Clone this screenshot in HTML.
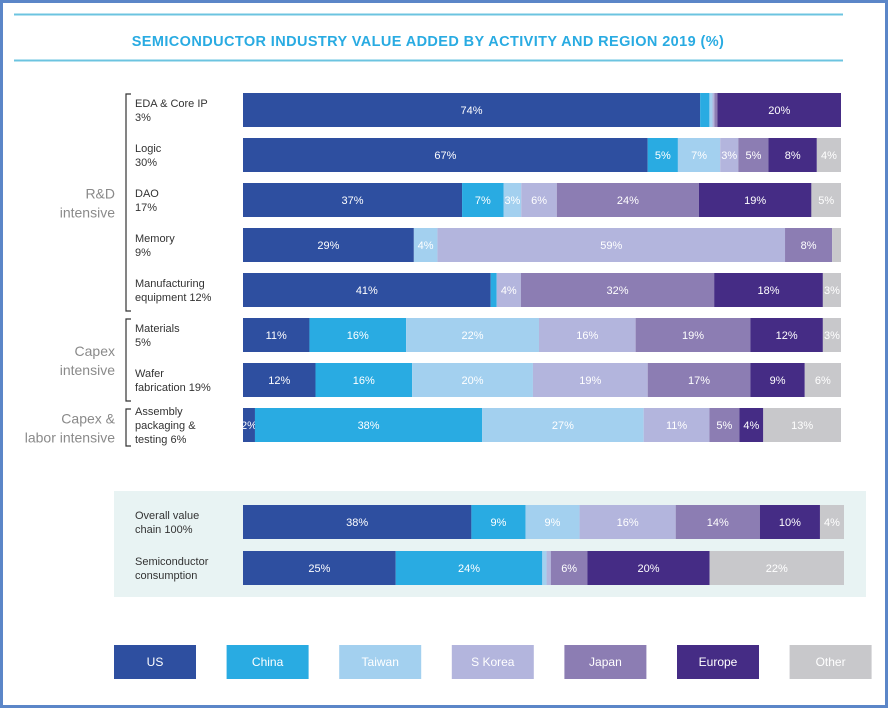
<!DOCTYPE html>
<html><head><meta charset="utf-8">
<style>
body{margin:0;background:#fff;}
svg{display:block;font-family:"Liberation Sans",sans-serif;}
</style></head>
<body>
<svg id="chart" width="889" height="709" viewBox="0 0 889 709">
<rect x="1.5" y="1.5" width="885" height="705" fill="none" stroke="#5b86c8" stroke-width="3"/>
<line x1="14" y1="14.5" x2="843" y2="14.5" stroke="#6cc4e0" stroke-width="2"/>
<line x1="14" y1="60.5" x2="843" y2="60.5" stroke="#6cc4e0" stroke-width="2"/>
<text x="428" y="46" text-anchor="middle" font-size="14.5" font-weight="bold" fill="#29abe2" letter-spacing="0.4">SEMICONDUCTOR INDUSTRY VALUE ADDED BY ACTIVITY AND REGION 2019 (%)</text>
<rect x="114" y="491" width="752" height="106" fill="#e8f3f3"/>
<g id="groups"></g>
<g id="bars"></g>
<g id="legend"></g>
</svg>
<script>
const series = ["US","China","Taiwan","S Korea","Japan","Europe","Other"];
const colors = ["#2e4fa0","#29abe2","#a3d0ef","#b3b5dd","#8c7db3","#452c85","#c8c8cb"];
const categories = [["EDA & Core IP","3%"],["Logic","30%"],["DAO","17%"],["Memory","9%"],["Manufacturing","equipment 12%"],["Materials","5%"],["Wafer","fabrication 19%"],["Assembly","packaging &","testing 6%"],["Overall value","chain 100%"],["Semiconductor","consumption"]];
const usVals     = [74,67,37,29,41,11,12,2,38,25];
const chinaVals  = [1.5,5,7,0,1,16,16,38,9,24];
const taiwanVals = [0.5,7,3,4,0,22,20,27,9,0.7];
const koreaVals  = [0.3,3,6,59,4,16,19,11,16,0.7];
const japanVals  = [0.5,5,24,8,32,19,17,5,14,6];
const europeVals = [20,8,19,0,18,12,9,4,10,20];
const otherVals  = [0,4,5,1.5,3,3,6,13,4,22];
const allVals = [usVals,chinaVals,taiwanVals,koreaVals,japanVals,europeVals,otherVals];
const groups = [["R&D","intensive"],["Capex","intensive"],["Capex &","labor intensive"]];
const groupRows = [[0,4],[5,6],[7,7]];

const NS="http://www.w3.org/2000/svg";
function mk(tag,attrs,parent){const e=document.createElementNS(NS,tag);for(const k in attrs)e.setAttribute(k,attrs[k]);parent.appendChild(e);return e;}
function rowY(i){return i<8?93+i*45:505+(i-8)*46;}
function rowX0(i){return 243;}
function rowW(i){return i<8?598:601;}
const barH=34;
const bars=document.getElementById('bars');
categories.forEach((cat,i)=>{
  const y=rowY(i);
  const lab=mk('text',{x:135,y:0,'font-size':11,fill:'#333'},bars);
  
  
  const startY=y+barH/2-(cat.length-1)*7+4;
  cat.forEach((ln,k)=>{const t=mk('tspan',{x:135,y:startY+k*14},lab);t.textContent=ln;});
  let total=0;allVals.forEach(a=>total+=a[i]);
  let x=rowX0(i);
  allVals.forEach((a,s)=>{
    const v=a[i];if(v<=0)return;
    const w=v/total*rowW(i);
    const r=mk('rect',{x:x,y:y,width:w,height:barH,fill:colors[s]},bars);
    
    
    if(v>=2){
      const t=mk('text',{x:x+w/2,y:y+barH/2+4,'text-anchor':'middle','font-size':11,fill:'#fff'},bars);
      t.textContent=Math.round(v)+'%';
      
      
    }
    x+=w;
  });
});
const g=document.getElementById('groups');
groups.forEach((gr,k)=>{
  const y0=rowY(groupRows[k][0])+1, y1=rowY(groupRows[k][1])+barH+4;
  const p=mk('path',{d:`M131 ${y0}H126V${y1}H131`,fill:'none',stroke:'#333','stroke-width':1.2},g);
  
  
  const mid=(y0+y1)/2;
  const t=mk('text',{'text-anchor':'end','font-size':14,fill:'#8a8a8a'},g);
  
  
  gr.forEach((ln,j)=>{const s=mk('tspan',{x:115,y:mid-4+j*19},t);s.textContent=ln;});
});
const lg=document.getElementById('legend');
series.forEach((s,k)=>{
  const x=114+k*112.6;
  const r=mk('rect',{x:x,y:645,width:82,height:34,fill:colors[k]},lg);
  
  
  const t=mk('text',{x:x+41,y:666,'text-anchor':'middle','font-size':12,fill:'#fff'},lg);
  t.textContent=s;
  
  
});
</script>
</body></html>
